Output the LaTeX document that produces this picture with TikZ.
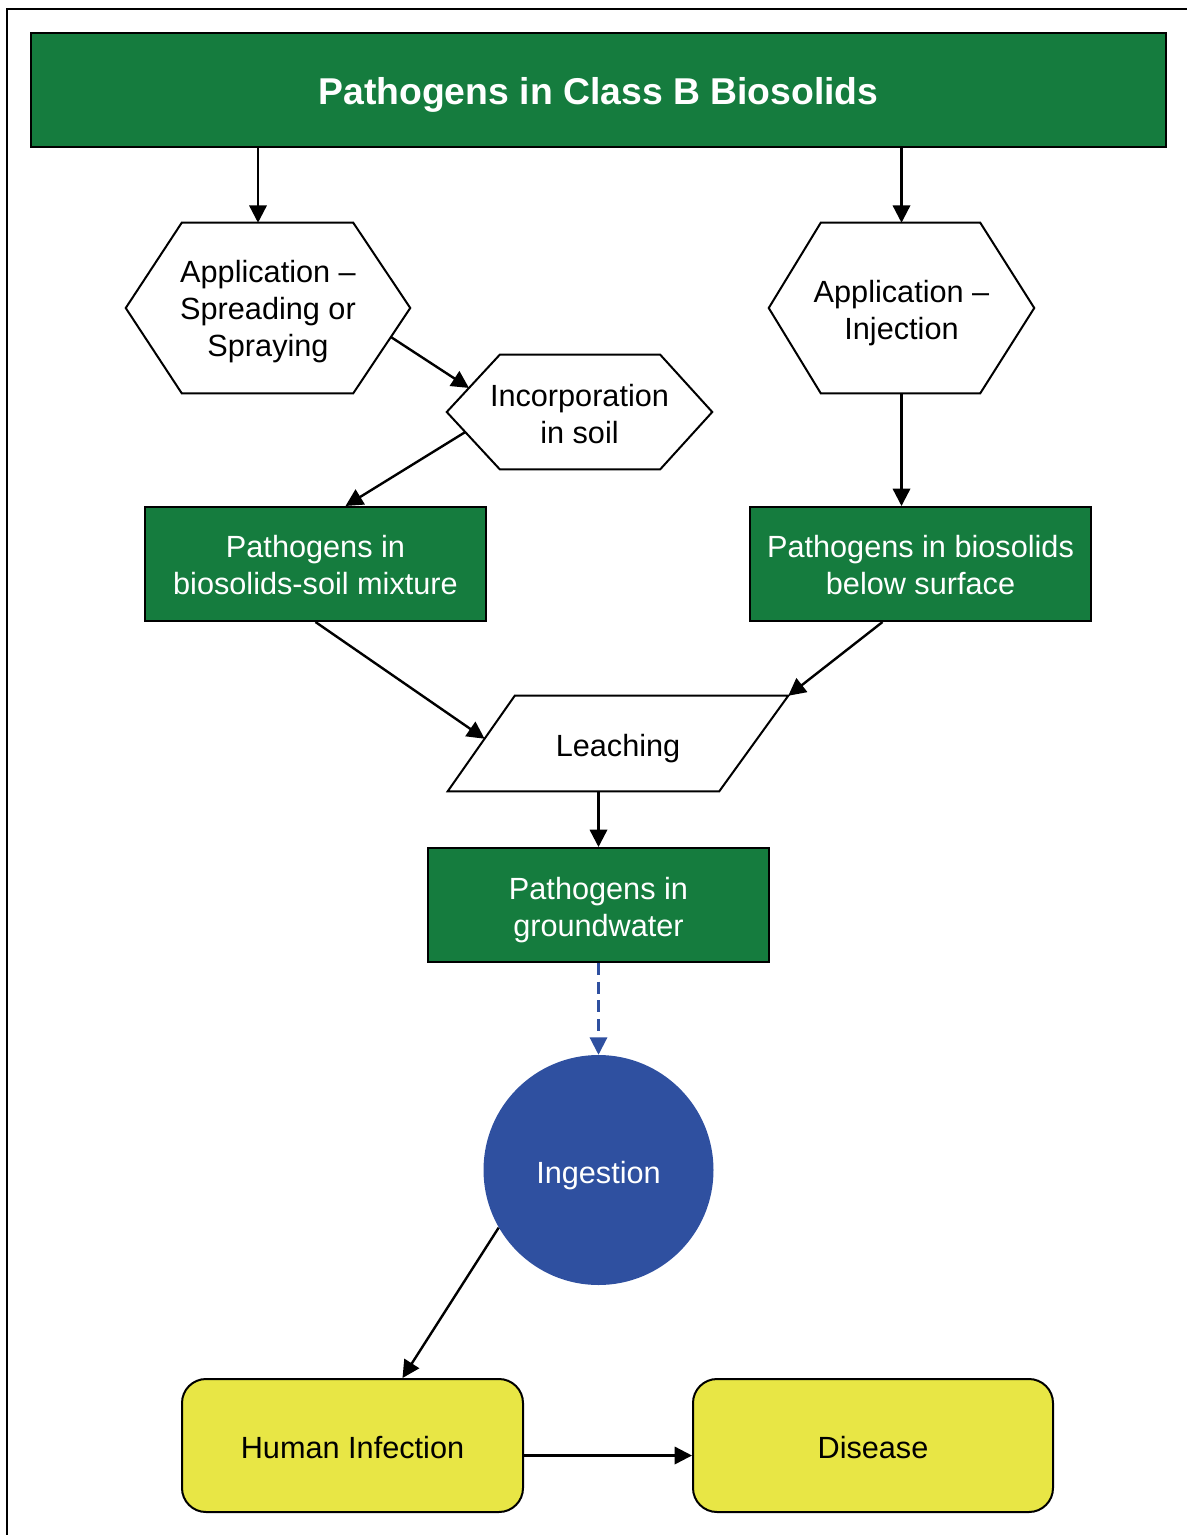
\documentclass[tikz,border=0pt]{standalone}
\usepackage{fontspec}
\setmainfont{Liberation Sans}
\usetikzlibrary{arrows.meta,calc}
\definecolor{boxgreen}{RGB}{21,124,62}
\definecolor{ingblue}{RGB}{47,80,160}
\definecolor{boxyellow}{RGB}{232,230,69}
\tikzset{
  x=0.75pt,y=-0.75pt,
  txt/.style={font=\fontsize{23}{27.75}\selectfont,align=center,inner sep=0pt},
  greenbox/.style={draw=black,line width=1.5pt,fill=boxgreen,minimum width=255.75pt,minimum height=85.5pt,inner sep=0pt},
  hexframe/.style={draw=black,line width=1.5pt,fill=white,line join=miter},
  shapebox/.style={draw=none,inner sep=0pt,minimum height=#1},
  yelbox/.style={draw=black,line width=1.5pt,fill=boxyellow,rounded corners=18pt,minimum height=99.75pt,inner sep=0pt},
  conn/.style={line width=1.8pt,-{Triangle[length=13pt,width=13pt]}},
}
\begin{document}
\begin{tikzpicture}
\useasboundingbox (0,0) rectangle (1187,1535);
% outer frame
\draw[line width=1.2pt] (7,1535) -- (7,9) -- (1187,9);

% title
\node[greenbox,minimum width=851.25pt] (title) at (598.5,90) {};
\node[txt,text=white,font=\fontsize{28}{33}\selectfont\bfseries] (titlet) at ($(title)+(0,5)$) {Pathogens in Class B Biosolids};

% hexagon A
\node[shapebox=127.5pt,minimum width=213pt] (hexA) at (268,308) {};
\draw[hexframe] (hexA.west) -- ($(hexA.north west)+(56,0)$) -- ($(hexA.north east)+(-57,0)$) -- (hexA.east)
  -- ($(hexA.south east)+(-57,0)$) coordinate (hAse) -- ($(hexA.south west)+(56,0)$) -- cycle;
\node[txt] (hexAt) at ($(hexA)+(0,4)$) {Application –\\Spreading or\\Spraying};

% hexagon B
\node[shapebox=127.5pt,minimum width=198.75pt] (hexB) at (901.5,308) {};
\draw[hexframe] (hexB.west) -- ($(hexB.north west)+(52,0)$) -- ($(hexB.north east)+(-54,0)$) -- (hexB.east)
  -- ($(hexB.south east)+(-54,0)$) -- ($(hexB.south west)+(52,0)$) -- cycle;
\node[txt] (hexBt) at ($(hexB)+(0,5)$) {Application –\\Injection};

% hexagon C
\node[shapebox=85.5pt,minimum width=198.75pt] (hexC) at (579.5,412) {};
\draw[hexframe] (hexC.west) -- ($(hexC.north west)+(53,0)$) coordinate (hCnw) -- ($(hexC.north east)+(-52,0)$) -- (hexC.east)
  -- ($(hexC.south east)+(-52,0)$) -- ($(hexC.south west)+(53,0)$) coordinate (hCsw) -- cycle;
\node[txt] (hexCt) at ($(hexC)+(0,2.5)$) {Incorporation\\in soil};

% green boxes
\node[greenbox] (mix) at (315.5,564) {};
\node[txt,text=white] (mixt) at ($(mix)+(0,1.5)$) {Pathogens in\\biosolids-soil mixture};
\node[greenbox] (sur) at (920.5,564) {};
\node[txt,text=white] (surt) at ($(sur)+(0,1.5)$) {Pathogens in biosolids\\below surface};

% leaching parallelogram
\node[shapebox=71.25pt,minimum width=255pt] (lea) at (618,743.5) {};
\draw[hexframe] (lea.south west) coordinate (lsw) -- ($(lea.north west)+(67,0)$) coordinate (lnw) -- (lea.north east) -- ($(lea.south east)+(-69,0)$) -- cycle;
\node[txt] (leat) at ($(lea)+(0,5)$) {Leaching};

\node[greenbox] (gw) at (598.5,905) {};
\node[txt,text=white] (gwt) at ($(gw)+(0,5)$) {Pathogens in\\groundwater};

% ingestion
\node[circle,fill=ingblue,minimum size=172.5pt,inner sep=0pt] (ing) at (598.5,1170) {};
\node[txt,text=white] (ingt) at ($(ing)+(0,6)$) {Ingestion};

% yellow boxes
\node[yelbox,minimum width=255.75pt] (hum) at (352.5,1445.5) {};
\node[txt] (humt) at ($(hum)+(0,2)$) {Human Infection};
\node[yelbox,minimum width=270pt] (dis) at (873,1445.5) {};
\node[txt] (dist) at ($(dis)+(0,2)$) {Disease};

% connectors
\coordinate (aA) at ($(hexA.north)+(-10,0)$);
\draw[conn] (title.south -| aA) -- (aA);
\draw[conn] (title.south -| hexB.north) -- (hexB.north);
\draw[conn] ($(hexA.east)!0.34!(hAse)$) -- ($(hexC.west)!0.42!(hCnw)$);
\draw[conn] ($(hexC.west)!0.35!(hCsw)$) -- ($(mix.north)+(30,0)$);
\draw[conn] (hexB.south) -- (hexB.south |- sur.north);
\draw[conn] (mix.south) -- ($(lsw)!0.55!(lnw)$);
\draw[conn] ($(sur.south)+(-38,0)$) -- (lea.north east);
\draw[conn] (gw.north |- lea.south) -- (gw.north);
\draw[conn,ingblue,line width=1.6pt,dash pattern=on 9pt off 5pt] (gw.south) -- (ing.north);
\draw[conn] (ing.210) -- ($(hum.north)+(50,0)$);
\draw[conn] ($(hum.east)+(0,10)$) -- ($(dis.west)+(0,10)$);
\end{tikzpicture}
\end{document}
